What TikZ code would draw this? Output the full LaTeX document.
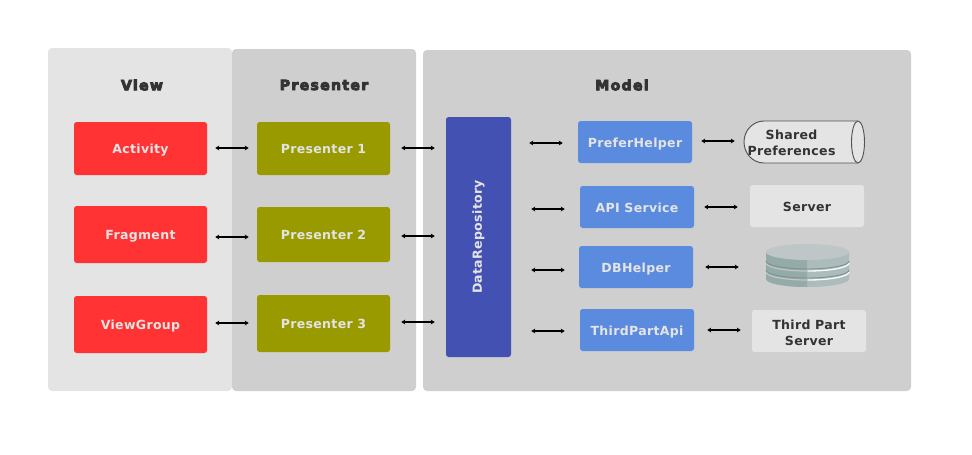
\documentclass[tikz,border=0pt]{standalone}
\usepackage{fontspec}
\setmainfont{DejaVu Sans}
\newfontfamily\labelfont[LetterSpace=2.5,BoldFont={DejaVu Sans Bold}]{DejaVu Sans}
\newfontfamily\headfont[LetterSpace=9,FakeBold=6]{DejaVu Sans Bold}
\usetikzlibrary{calc,arrows.meta}
\definecolor{panelLight}{HTML}{E4E4E4}
\definecolor{panelDark}{HTML}{CFCFCF}
\definecolor{viewRed}{HTML}{FF3333}
\definecolor{presenterOlive}{HTML}{999900}
\definecolor{repoIndigo}{HTML}{4352B2}
\definecolor{helperBlue}{HTML}{5B8BDE}
\definecolor{textMain}{HTML}{333333}
\definecolor{textLight}{HTML}{E4E4E4}
\definecolor{diskTop}{HTML}{BFC6C8}
\definecolor{diskLeft}{HTML}{95ABA8}
\definecolor{diskRight}{HTML}{ACBBBB}
\definecolor{diskEdge}{HTML}{7F9390}

\begin{document}
\begin{tikzpicture}[
    x=0.75pt, y=-0.75pt,
    panel/.style={rectangle, rounded corners=3pt, inner sep=0pt},
    heading/.style={font=\headfont\fontsize{10.6}{13}\selectfont, text=textMain},
    box/.style={rectangle, rounded corners=2pt, inner sep=0pt, align=center,
                minimum width=133*0.75pt, minimum height=53*0.75pt, text height=8pt, text depth=0pt,
                font=\labelfont\bfseries\fontsize{9.4}{12}\selectfont, text=textLight},
    helper/.style={box, fill=helperBlue, minimum width=114*0.75pt, minimum height=42*0.75pt},
    store/.style={box, text=textMain, minimum width=114*0.75pt, minimum height=42*0.75pt},
    arrow/.style={{Stealth[length=3pt, width=3.6pt]}-{Stealth[length=3pt, width=3.6pt]}, line width=0.9pt, black},
    gap/.style 2 args={shorten <=#1*0.75pt, shorten >=#2*0.75pt},
]
    \useasboundingbox (0,0) rectangle (972,454);

    % Panels
    \node[panel, fill=panelLight, minimum width=184*0.75pt, minimum height=343*0.75pt] (viewpanel) at (140,219.5) {};
    \node[panel, fill=panelDark, minimum width=184*0.75pt, minimum height=342*0.75pt] (presenterpanel) at (324,220) {};
    \node[panel, fill=panelDark, minimum width=488*0.75pt, minimum height=341*0.75pt] (modelpanel) at (667,220.5) {};

    \node[heading] (viewtitle) at (142,85) {View};
    \node[heading] (presentertitle) at (324,85) {Presenter};
    \node[heading] (modeltitle) at (622,85) {Model};

    % Layer 1: View
    \node[box, fill=viewRed] (activity) at (140.5,148.5) {Activity};
    \node[box, fill=viewRed, minimum height=57*0.75pt] (fragment) at (140.5,234.5) {Fragment};
    \node[box, fill=viewRed, minimum height=57*0.75pt] (viewgroup) at (140.5,324.5) {ViewGroup};

    % Layer 2: Presenter
    \node[box, fill=presenterOlive] (pone) at (323.5,148.5) {Presenter 1};
    \node[box, fill=presenterOlive, minimum height=55*0.75pt] (ptwo) at (323.5,234.5) {Presenter 2};
    \node[box, fill=presenterOlive, minimum height=57*0.75pt] (pthree) at (323.5,323.5) {Presenter 3};

    % Layer 3: Model
    \node[box, fill=repoIndigo, minimum width=240*0.75pt, minimum height=65*0.75pt, rotate=90, text height=7pt, text depth=2pt] (repo) at (478.5,237) {DataRepository};

    \node[helper] (prefer) at (635,142) {PreferHelper};
    \node[helper] (api) at (637,207) {API Service};
    \node[helper] (dbhelper) at (636,267) {DBHelper};
    \node[helper] (thirdapi) at (637,330) {ThirdPartApi};

    % Layer 4: Stores
    \draw[draw=textMain!85, fill=panelLight, line width=0.7pt]
        (764,121) -- (858,121) arc[start angle=-90, end angle=90, x radius=6.5, y radius=21]
        -- (764,163) arc[start angle=90, end angle=270, x radius=20, y radius=21] -- cycle;
    \draw[draw=textMain!85, line width=0.7pt] (858,121) arc[start angle=270, end angle=90, x radius=6.5, y radius=21];
    \node[store, minimum width=120*0.75pt] (shared) at (804,142) {};
    \node[font=\labelfont\bfseries\fontsize{9.4}{12.2}\selectfont, text=textMain, align=center, inner sep=0pt] (sharedtext) at (791.5,143) {Shared\\Preferences};
    \node[store, fill=panelLight] (server) at (807,206) {Server};
    \node[store, fill=panelLight, text height=21pt] (thirdserver) at (809,331) {Third Part\\Server};

    % Disk stack
    \node[inner sep=0pt, minimum width=83*0.75pt, minimum height=44*0.75pt] (disks) at (807.5,266) {};
    \fill[diskRight] (766,252) -- (849,252) -- (849,279) arc[start angle=0, end angle=180, x radius=41.5, y radius=8] -- cycle;
    \fill[diskLeft] (766,252) -- (807,252) -- (807,287) arc[start angle=90, end angle=180, x radius=41, y radius=8] -- cycle;
    \foreach \ydisk in {263,272} {
        \draw[diskTop, line width=0.9pt] (766,\ydisk) arc[start angle=180, end angle=90, x radius=41.5, y radius=8];
        \draw[white!90!diskTop, line width=1pt] (807.5,\ydisk+8) arc[start angle=90, end angle=0, x radius=41.5, y radius=8];
        \draw[diskEdge, line width=0.7pt] (766,\ydisk-2) arc[start angle=180, end angle=0, x radius=41.5, y radius=8];
    }
    \fill[diskTop] (807.5,252) ellipse[x radius=41.5, y radius=8];

    % Arrows
    \coordinate (aone) at (activity.east |- 0,148);
    \coordinate (atwo) at (fragment.east |- 0,237);
    \coordinate (athree) at (viewgroup.east |- 0,323);
    \coordinate (bone) at (pone.east |- 0,148);
    \coordinate (btwo) at (ptwo.east |- 0,236);
    \coordinate (bthree) at (pthree.east |- 0,322);
    \draw[arrow, gap={8}{8}] (aone) -- (aone -| pone.west);
    \draw[arrow, gap={8}{8}] (atwo) -- (atwo -| ptwo.west);
    \draw[arrow, gap={8}{8}] (athree) -- (athree -| pthree.west);
    \draw[arrow, gap={11}{11}] (bone) -- (bone -| repo.north);
    \draw[arrow, gap={11}{11}] (btwo) -- (btwo -| repo.north);
    \draw[arrow, gap={11}{11}] (bthree) -- (bthree -| repo.north);

    \coordinate (cone) at (repo.south |- 0,143);
    \coordinate (ctwo) at (repo.south |- 0,209);
    \coordinate (cthree) at (repo.south |- 0,270);
    \coordinate (cfour) at (repo.south |- 0,331);
    \draw[arrow, gap={18}{15}] (cone) -- (cone -| prefer.west);
    \draw[arrow, gap={20}{15}] (ctwo) -- (ctwo -| api.west);
    \draw[arrow, gap={20}{14}] (cthree) -- (cthree -| dbhelper.west);
    \draw[arrow, gap={20}{15}] (cfour) -- (cfour -| thirdapi.west);

    \coordinate (done) at (prefer.east |- 0,141);
    \coordinate (dtwo) at (api.east |- 0,207);
    \coordinate (dthree) at (dbhelper.east |- 0,267);
    \coordinate (dfour) at (thirdapi.east |- 0,330);
    \draw[arrow, gap={9}{9}] (done) -- (done -| shared.west);
    \draw[arrow, gap={10}{12}] (dtwo) -- (dtwo -| server.west);
    \draw[arrow, gap={12}{27}] (dthree) -- (dthree -| disks.west);
    \draw[arrow, gap={13}{11}] (dfour) -- (dfour -| thirdserver.west);
\end{tikzpicture}
\end{document}
